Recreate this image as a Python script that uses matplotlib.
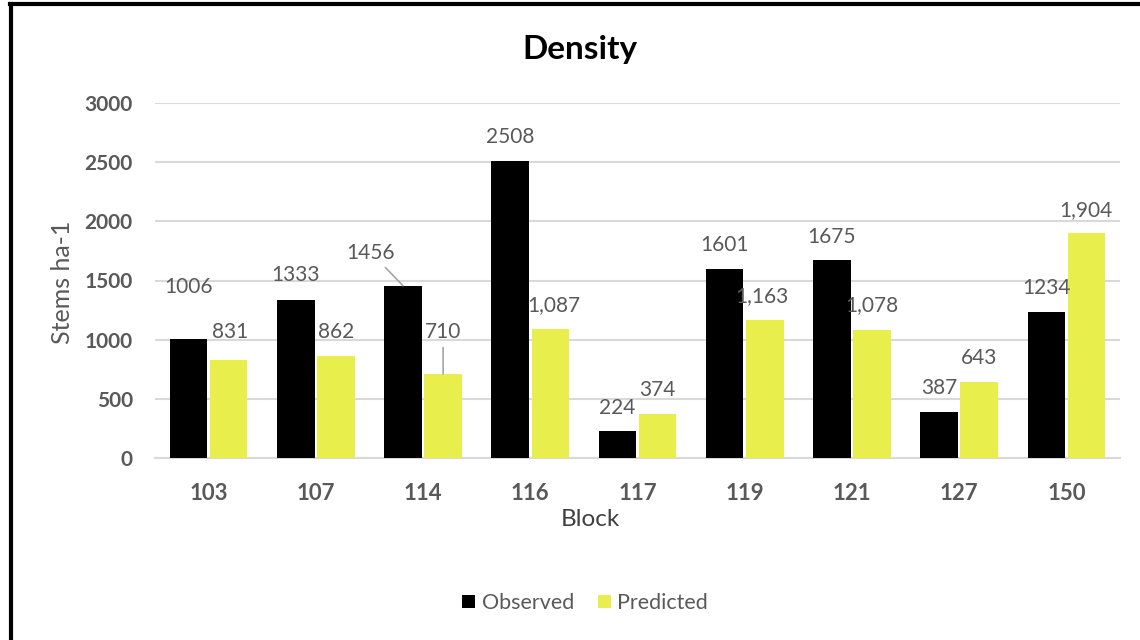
import matplotlib.pyplot as plt
import numpy as np
from matplotlib.lines import Line2D

plt.rcParams['font.family'] = ['Lato', 'DejaVu Sans']

blocks = ['103', '107', '114', '116', '117', '119', '121', '127', '150']
observed = [1006, 1333, 1456, 2508, 224, 1601, 1675, 387, 1234]
predicted = [831, 862, 710, 1087, 374, 1163, 1078, 643, 1904]

# label offsets in pixels (dx, dy), dragged labels as in the original
obs_offsets = [(0, 52), (0, 25), (-32, 33), (0, 24), (0, 23), (0, 24), (0, 23), (0, 24), (0, 24)]
pred_offsets = [(1, 28), (0, 24), (0, 42), (3, 24), (0, 24), (-3, 24), (0, 25), (0, 24), (-1, 23)]
leader_obs = [False, False, True, False, False, False, False, False, False]
leader_pred = [False, False, True, False, False, False, False, False, False]

black = '#000000'
yellow = '#E8EF4C'
grey = '#595959'

fig = plt.figure(figsize=(11.4, 6.4), dpi=100)
ax = fig.add_axes([155 / 1140, 1 - 458 / 640, (1120 - 155) / 1140, (458 - 103) / 640])

x = np.arange(len(blocks))
w = 0.35
off = 0.187
b1 = ax.bar(x - off, observed, w, color=black, label='Observed', zorder=3)
b2 = ax.bar(x + off, predicted, w, color=yellow, label='Predicted', zorder=3)

ax.set_xlim(-0.5, len(blocks) - 0.5)
ax.set_ylim(0, 3000)
ax.set_yticks(range(0, 3001, 500))
ax.yaxis.grid(True, color='#D9D9D9', linewidth=1.5, zorder=0)
ax.set_axisbelow(True)
for s in ['top', 'right', 'left']:
    ax.spines[s].set_visible(False)
ax.spines['bottom'].set_color('#D9D9D9')
ax.spines['bottom'].set_linewidth(1.5)
ax.tick_params(axis='both', length=0, colors=grey)
ax.tick_params(axis='x', pad=18, labelsize=16)
ax.tick_params(axis='y', pad=16, labelsize=15)
ax.set_xticks(x)
ax.set_xticklabels(blocks)
for t in ax.get_xticklabels() + ax.get_yticklabels():
    t.set_fontweight('bold')

def put_labels(xs, vals, offsets, leaders, fmt):
    for xi, v, (dx, dy), lead in zip(xs, vals, offsets, leaders):
        props = dict(arrowstyle='-', color='#A6A6A6', lw=1.2, shrinkA=2, shrinkB=0) if lead else None
        ax.annotate(fmt(v), xy=(xi, v), xytext=(dx, dy), textcoords='offset pixels',
                    ha='center', va='center', fontsize=15, color=grey,
                    arrowprops=props, zorder=4)

put_labels(x - off, observed, obs_offsets, leader_obs, lambda v: f'{v}')
put_labels(x + off, predicted, pred_offsets, leader_pred, lambda v: f'{v:,}')

fig.text(580 / 1140, 1 - 50 / 640, 'Density', ha='center', va='center',
         fontsize=24, fontweight='bold', color='black')
fig.text(590 / 1140, 1 - 519 / 640, 'Block', ha='center', va='center',
         fontsize=17.5, color='#404040')
fig.text(62 / 1140, 1 - 282 / 640, 'Stems ha-1', ha='center', va='center',
         rotation=90, fontsize=18, color=grey)

fig.legend(handles=[b1, b2], labels=['Observed', 'Predicted'], loc='center',
           bbox_to_anchor=(585 / 1140, 1 - 603 / 640), ncol=2, frameon=False,
           fontsize=15.5, labelcolor=grey, handlelength=0.6, handleheight=0.6,
           handletextpad=0.3, columnspacing=1.1)

# outer frame (top and left edges visible in the original)
fig.add_artist(Line2D([10 / 1140, 1], [1 - 4 / 640, 1 - 4 / 640], color='black', lw=3,
                      transform=fig.transFigure))
fig.add_artist(Line2D([11 / 1140, 11 / 1140], [0, 1 - 4 / 640], color='black', lw=3,
                      transform=fig.transFigure))

fig.savefig('out.png', dpi=100)
